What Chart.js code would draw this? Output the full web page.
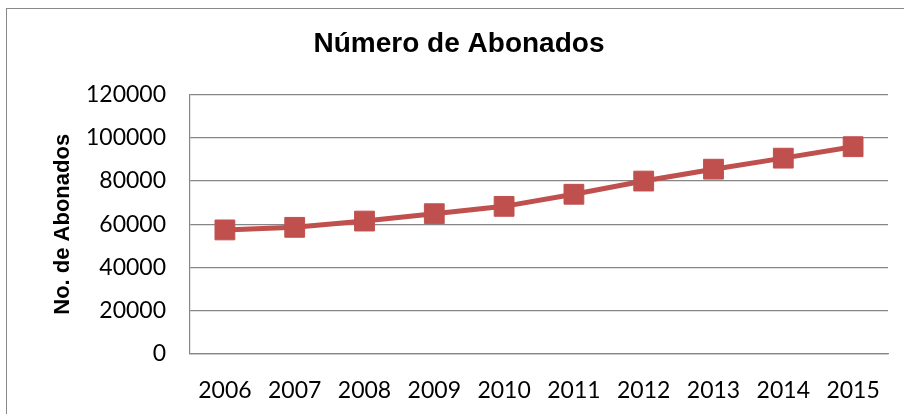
<!DOCTYPE html>
<html>
<head>
<meta charset="utf-8">
<script src="https://cdn.jsdelivr.net/npm/chart.js@4"></script>
<style>
  html, body { margin: 0; padding: 0; background: #fff; overflow: hidden; }
  #frame { position: absolute; left: 6px; top: 8px; width: 1000px; height: 1000px; border: 1px solid #888; }
  #wrap { position: absolute; left: 0; top: 0; width: 904px; height: 414px; }
</style>
</head>
<body>
<div id="frame"></div>
<div id="wrap"><canvas id="chart" width="904" height="414"></canvas></div>
<script>
const years = ["2006", "2007", "2008", "2009", "2010", "2011", "2012", "2013", "2014", "2015"];
const abonados = [57400, 58600, 61500, 64900, 68300, 73900, 80000, 85500, 90600, 95900];
const yTicks = [0, 20000, 40000, 60000, 80000, 100000, 120000];

const red = "#C0504D";
const gridGrey = "#868686";

new Chart(document.getElementById("chart"), {
    type: "line",
    data: {
        labels: years,
        datasets: [{
            label: "No. de Abonados",
            data: abonados,
            borderColor: red,
            backgroundColor: red,
            borderWidth: 5,
            pointStyle: "rect",
            pointRadius: 14,
            pointHoverRadius: 14,
            pointBackgroundColor: red,
            pointBorderColor: red,
            pointBorderWidth: 1,
            tension: 0,
            fill: false
        }]
    },
    options: {
        responsive: false,
        animation: false,
        layout: { padding: { left: 30, right: 16, top: 0, bottom: 0 } },
        plugins: {
            legend: { display: false },
            tooltip: { enabled: false },
            title: {
                display: true,
                text: "Número de Abonados",
                color: "#000",
                font: { family: "'Liberation Sans', Arial, sans-serif", size: 28, weight: "bold" },
                padding: { top: 27, bottom: 34 }
            }
        },
        scales: {
            x: {
                offset: true,
                afterFit: axis => { axis.height = 60; },
                grid: { display: false, drawTicks: false },
                border: { display: true, color: gridGrey, width: 1.2 },
                ticks: {
                    color: "#000",
                    padding: 23,
                    font: { family: "Lato, 'Open Sans', sans-serif", size: 23 }
                }
            },
            y: {
                min: yTicks[0],
                max: yTicks[yTicks.length - 1],
                afterFit: axis => { axis.width = 160; },
                afterBuildTicks: axis => { axis.ticks = yTicks.map(v => ({ value: v })); },
                grid: { color: gridGrey, lineWidth: 1.2, drawTicks: false },
                border: { display: true, color: gridGrey, width: 1.2 },
                ticks: {
                    color: "#000",
                    padding: 24,
                    font: { family: "Lato, 'Open Sans', sans-serif", size: 23 },
                    callback: v => String(v)
                },
                title: {
                    display: true,
                    text: "No. de Abonados",
                    color: "#000",
                    font: { family: "'Liberation Sans', Arial, sans-serif", size: 22, weight: "bold" },
                    padding: { top: 20, bottom: 0 }
                }
            }
        }
    }
});
</script>
</body>
</html>
